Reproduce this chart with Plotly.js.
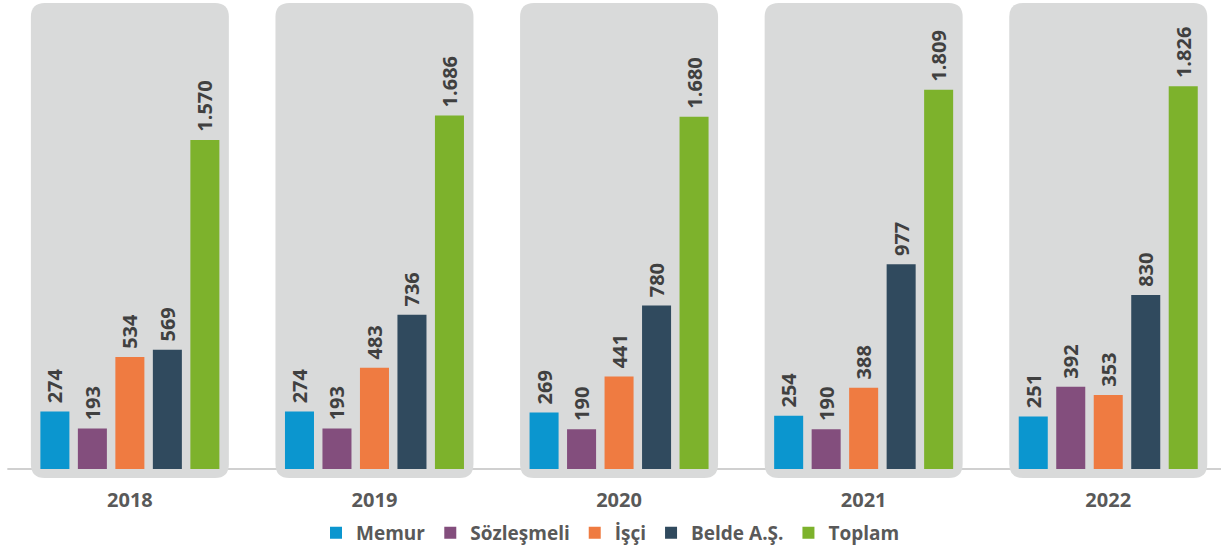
<!DOCTYPE html>
<html>
<head>
<meta charset="utf-8">
<script src="https://cdn.plot.ly/plotly-3.0.1.min.js"></script>
<style>html,body{margin:0;padding:0;background:#fff;}#chart{width:1221px;height:556px;}</style>
</head>
<body>
<div id="chart"></div>
<script>
var years = ["2018", "2019", "2020", "2021", "2022"];
var seriesNames = ["Memur", "Sözleşmeli", "İşçi", "Belde A.Ş.", "Toplam"];
var memur = [274, 274, 269, 254, 251];
var sozlesmeli = [193, 193, 190, 190, 392];
var isci = [534, 483, 441, 388, 353];
var belde = [569, 736, 780, 977, 830];
var toplam = [1570, 1686, 1680, 1809, 1826];
var colors = ["#0b96cf", "#834e7d", "#ef7b41", "#304a5e", "#7db22c"];

var allSeries = [memur, sozlesmeli, isci, belde, toplam];
var xIdx = years.map(function (_, i) { return i; });

function fmt(v) {
  var s = String(v);
  if (v >= 1000) s = s.slice(0, s.length - 3) + "." + s.slice(s.length - 3);
  return "\u00a0" + s;
}

var traces = allSeries.map(function (vals, i) {
  return {
    type: "bar",
    name: seriesNames[i],
    x: xIdx,
    y: vals,
    marker: { color: colors[i] },
    text: vals.map(fmt),
    textposition: "outside",
    textangle: -90,
    constraintext: "none",
    cliponaxis: false,
    textfont: { family: "Open Sans", size: 20, color: "#404040", weight: 700 },
    outsidetextfont: { family: "Open Sans", size: 20, color: "#404040", weight: 700 },
    hoverinfo: "skip"
  };
});

// panel backgrounds (rounded rectangles)
var yMin = -52.5, yMax = 2237.6;
var pxPerY = 480 / (yMax - yMin);
var pxPerX = 244.6;
var rad = 14;
var rx = rad / pxPerX, ry = rad / pxPerY;
var halfW = 99 / pxPerX;
var panelTop = (469 - 3) / pxPerY;
var panelBot = -(478 - 469) / pxPerY;

var shapes = [{
  type: "line", xref: "paper", yref: "y", x0: 0.006, x1: 1, y0: 0, y1: 0,
  line: { color: "#d0d0d0", width: 2 }, layer: "below"
}];
xIdx.forEach(function (i) {
  var x0 = i - halfW, x1 = i + halfW, yt = panelTop, yb = panelBot;
  var p = "M" + (x0 + rx) + "," + yt +
    " L" + (x1 - rx) + "," + yt +
    " Q" + x1 + "," + yt + " " + x1 + "," + (yt - ry) +
    " L" + x1 + "," + (yb + ry) +
    " Q" + x1 + "," + yb + " " + (x1 - rx) + "," + yb +
    " L" + (x0 + rx) + "," + yb +
    " Q" + x0 + "," + yb + " " + x0 + "," + (yb + ry) +
    " L" + x0 + "," + (yt - ry) +
    " Q" + x0 + "," + yt + " " + (x0 + rx) + "," + yt + " Z";
  shapes.push({
    type: "path", xref: "x", yref: "y", path: p,
    fillcolor: "#d9dada", line: { width: 0 }, layer: "below"
  });
});

var layout = {
  width: 1221, height: 556,
  margin: { l: 0, r: 0, t: 0, b: 76 },
  paper_bgcolor: "#ffffff", plot_bgcolor: "rgba(0,0,0,0)",
  barmode: "group",
  bargap: 0.2335,
  bargroupgap: 0.226,
  showlegend: true,
  legend: {
    orientation: "h", x: 0.5, xanchor: "center", y: -0.11, yanchor: "middle",
    font: { family: "Open Sans", size: 19, color: "#595959", weight: 700 },
    itemwidth: 30, traceorder: "normal"
  },
  xaxis: {
    type: "linear",
    range: [-0.531, 4.461],
    tickmode: "array", tickvals: xIdx, ticktext: years,
    showgrid: false, zeroline: false, showline: false,
    ticks: "", ticklabelstandoff: 6,
    tickfont: { family: "Open Sans", size: 20, color: "#595959", weight: 700 },
    fixedrange: true
  },
  yaxis: {
    range: [yMin, yMax],
    visible: false, showgrid: false, zeroline: false,
    fixedrange: true
  },
  shapes: shapes,
  font: { family: "Open Sans" }
};

Plotly.newPlot("chart", traces, layout, { displayModeBar: false, staticPlot: true });
</script>
</body>
</html>
